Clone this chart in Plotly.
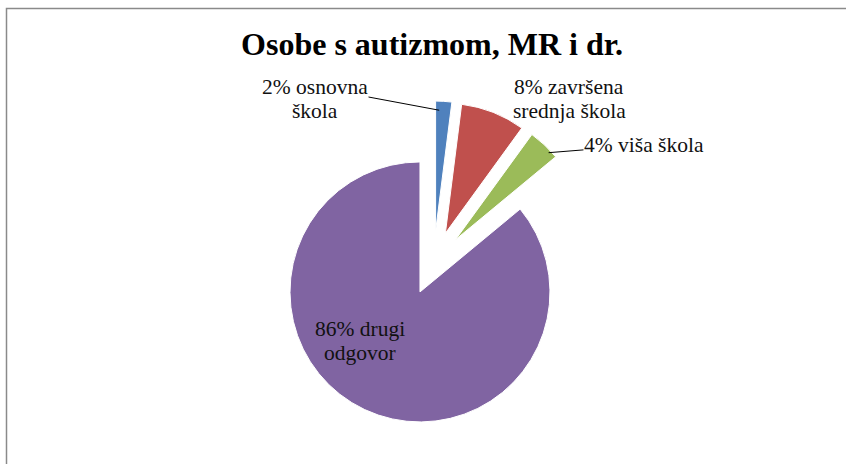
import math
import plotly.graph_objects as go

# ---- data ----
categories = ["osnovna škola", "završena srednja škola", "viša škola", "drugi odgovor"]
percent_values = [2, 8, 4, 86]
label_texts = ["osnovna<br>škola", "završena<br>srednja škola", "viša škola", "drugi<br>odgovor"]
slice_colors = ["#4F81BD", "#C0504D", "#9BBB59", "#8064A2"]
title_text = "Osobe s autizmom, MR i dr."

# ---- layout constants (pixels) ----
W, H = 846, 464
CX, CY = 433.6, 263.0      # pie centre
R = 130.0                  # radius
PULL = 0.246
half = R * (1 + PULL)

dom_x = [(CX - half) / W, (CX + half) / W]
dom_y = [1 - (CY + half) / H, 1 - (CY - half) / H]

fig = go.Figure(go.Pie(
    labels=categories,
    values=percent_values,
    sort=False,
    direction="clockwise",
    rotation=0,
    pull=[PULL] * len(percent_values),
    marker=dict(colors=slice_colors, line=dict(color="white", width=1)),
    textinfo="none",
    hoverinfo="label+percent",
    domain=dict(x=dom_x, y=dom_y),
    showlegend=False,
))

total = sum(percent_values)
def slice_point(i, frac, dang=0.0):
    start = sum(percent_values[:i]) / total * 360
    mid = start + percent_values[i] / total * 360 / 2 + dang
    a = math.radians(mid)
    ox = CX + PULL * R * math.sin(a)
    oy = CY - PULL * R * math.cos(a)
    px = ox + frac * R * math.sin(a)
    py = oy - frac * R * math.cos(a)
    return px / W, 1 - py / H

SERIF = "Liberation Serif"
font_lbl = dict(family=SERIF, size=21.5, color="#111111")
LINE_GAP = 24

# label placement (pixel centre of first line), leader target or None
label_pos = [(315, 87), (569, 87), (644, 145), (360, 329)]
leaders = [slice_point(0, 0.93, -1.5), None, slice_point(2, 0.98, 3.0), None]

annotations = []
for i, (cxp, cyp) in enumerate(label_pos):
    lines = label_texts[i].split("<br>")
    lines[0] = f"{percent_values[i]}% {lines[0]}"
    for k, line in enumerate(lines):
        ty = cyp + k * LINE_GAP
        if k == 0 and leaders[i] is not None:
            lx, ly = leaders[i]
            annotations.append(dict(x=lx, y=ly, xref="paper", yref="paper", text=line,
                                    showarrow=True, arrowhead=0, arrowwidth=1,
                                    arrowcolor="#000000", standoff=0, borderpad=0,
                                    ax=cxp - lx * W, ay=ty - (1 - ly) * H,
                                    font=font_lbl, xanchor="center", yanchor="middle"))
        else:
            annotations.append(dict(x=cxp / W, y=1 - ty / H, xref="paper", yref="paper",
                                    text=line, showarrow=False, font=font_lbl, borderpad=0,
                                    xanchor="center", yanchor="middle"))

fig.update_layout(
    width=W, height=H,
    margin=dict(l=0, r=0, t=0, b=0),
    paper_bgcolor="white",
    plot_bgcolor="white",
    title=dict(text=f"<b>{title_text}</b>", x=432 / W, xanchor="center",
               y=1 - 44 / H, yanchor="middle",
               font=dict(family=SERIF, size=32, color="#000000")),
    annotations=annotations,
    shapes=[dict(type="rect", xref="paper", yref="paper",
                 x0=6.5 / W, x1=1.05, y0=-0.05, y1=1 - 8.5 / H,
                 line=dict(color="#8a8a8a", width=1.5), fillcolor="rgba(0,0,0,0)", layer="below")],
)

fig.write_html("out.html", config={"displayModeBar": False},
               post_script="document.body.style.margin='0px';document.body.style.overflow='hidden';")
